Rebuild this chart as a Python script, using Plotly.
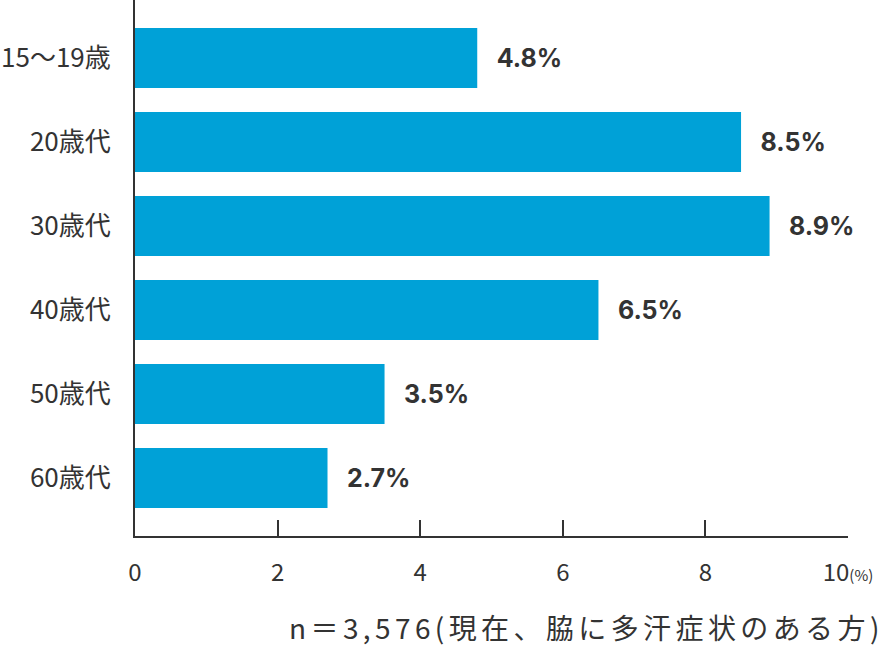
import plotly.graph_objects as go

categories = ["15～19歳", "20歳代", "30歳代", "40歳代", "50歳代", "60歳代"]
values = [4.8, 8.5, 8.9, 6.5, 3.5, 2.7]
x_ticks = [0, 2, 4, 6, 8, 10]
x_ticktext = ["0", "2", "4", "6", "8", "10<span style='font-size:15px'>(%)</span>"]
note = "n＝3,576(現在、脇に多汗症状のある方)"

BLUE = "#00A1D7"
DARK = "#333333"
JP = "Noto Sans CJK JP"

fig = go.Figure(go.Bar(
    x=values,
    y=categories,
    orientation="h",
    marker=dict(color=BLUE, line=dict(width=0)),
    texttemplate="\u2002\u2009%{x:.1f}%",
    textposition="outside",
    textfont=dict(family="Inter, " + JP, size=25, color=DARK, weight="bold"),
    cliponaxis=False,
    width=0.714,
))

fig.update_layout(
    width=885, height=647,
    margin=dict(l=135, r=37, t=0, b=111),
    plot_bgcolor="white", paper_bgcolor="white",
    showlegend=False,
    font=dict(family=JP, color=DARK),
    xaxis=dict(
        range=[0, 10], tickvals=x_ticks, ticktext=x_ticktext,
        showgrid=False, zeroline=False, automargin=False,
        showline=True, linecolor=DARK, linewidth=2,
        ticks="inside", ticklen=16, tickwidth=2, tickcolor=DARK,
        tickfont=dict(family=JP, size=24, color=DARK),
        ticklabelstandoff=14,
    ),
    yaxis=dict(
        categoryorder="array", categoryarray=categories[::-1],
        range=[-0.69, 5.69], automargin=False,
        showgrid=False, zeroline=False,
        showline=True, linecolor=DARK, linewidth=2,
        ticks="", tickfont=dict(family=JP, size=26, color=DARK),
        ticklabelstandoff=17,
    ),
    annotations=[dict(
        text="<span style='letter-spacing:4.4px'>" + note + "</span>",
        xref="paper", yref="paper", x=1.053, y=-0.170,
        xanchor="right", yanchor="middle", showarrow=False,
        font=dict(family=JP, size=28, color=DARK),
    )],
)

fig.write_html("out.html", config={"displayModeBar": False},
               post_script="document.body.style.margin='0';")
